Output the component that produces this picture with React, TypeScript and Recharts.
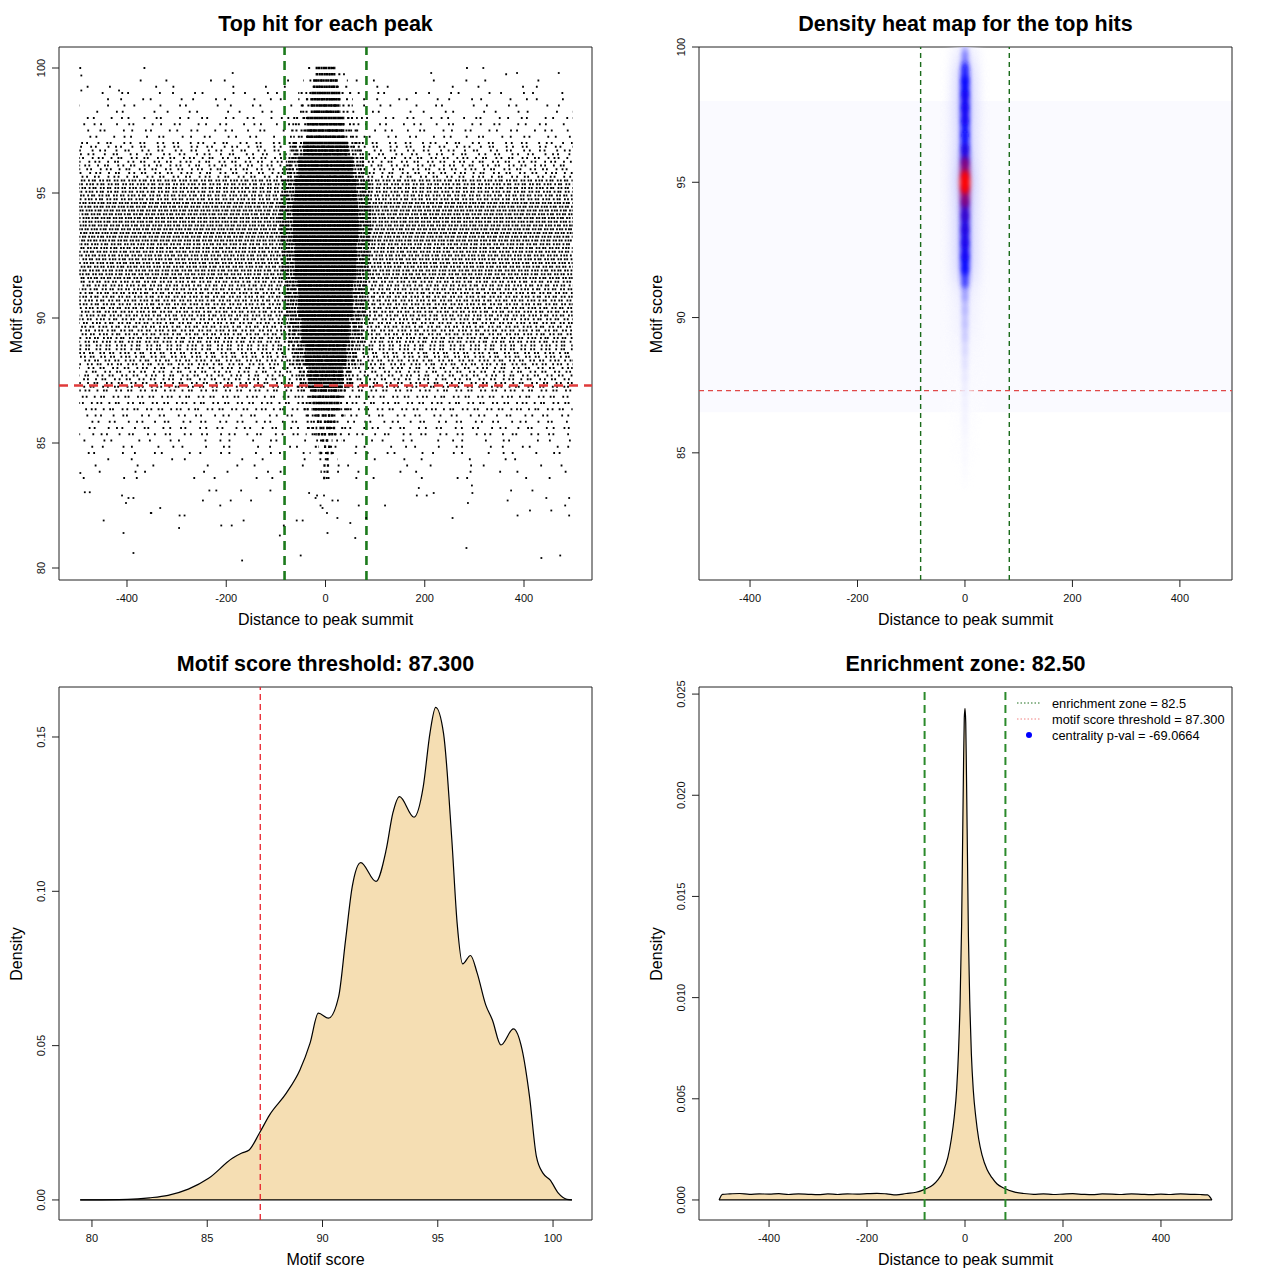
import React from "react";
import {
  ScatterChart,
  Scatter,
  AreaChart,
  Area,
  XAxis,
  YAxis,
  ReferenceLine,
  ReferenceArea,
} from "recharts";

const FONT = '"Liberation Sans", Arial, Helvetica, sans-serif';

// shared cut-offs
const enrichmentZone = 82.5;
const scoreThreshold = 87.3;
const centralityPval = "-69.0664";

const distanceTicks = [-400, -200, 0, 200, 400];
const scoreTicks = [80, 85, 90, 95, 100];
const heatScoreTicks = [85, 90, 95, 100];
const densityScoreTicks = [0, 0.05, 0.1, 0.15];
const densityDistTicks = [0, 0.005, 0.01, 0.015, 0.02, 0.025];

// ---- panel 1: motif score levels (the hits fall on discrete score rows)
const scoreRows = [
  100, 99.75, 99.5, 99.25, 99, 98.75, 98.5, 98.25, 98, 97.75, 97.5, 97.25,
  97, 96.85, 96.7, 96.55, 96.4, 96.25, 96.1, 95.95, 95.8, 95.65, 95.5, 95.35,
  95.2, 95.05, 94.9, 94.75, 94.6, 94.45, 94.3, 94.15, 94, 93.85, 93.7, 93.55,
  93.4, 93.25, 93.1, 92.95, 92.8, 92.65, 92.5, 92.35, 92.2, 92.05, 91.9, 91.75,
  91.6, 91.45, 91.3, 91.15, 91, 90.85, 90.7, 90.55, 90.4, 90.25, 90.1, 89.95,
  89.8, 89.65, 89.5, 89.35, 89.2, 89.05, 88.9, 88.75, 88.6, 88.45, 88.3, 88.15,
  88, 87.85, 87.7, 87.55, 87.4, 87.25, 87.1,
  86.85, 86.6, 86.35, 86.1, 85.85, 85.6, 85.35, 85.1, 84.85, 84.6, 84.35, 84.1,
  83.85, 83.6,
];

// hit density per score band (upper bound of each band, descending)
const bandTop = [100.5, 99.6, 99.0, 98.2, 97.1, 96.4, 95.6, 94.6, 93.0, 91.5, 90.0, 89.0, 88.0, 87.2, 86.2, 85.2, 84.4];
const bandBg = [0.01, 0.05, 0.1, 0.16, 0.22, 0.28, 0.5, 0.6, 0.55, 0.46, 0.42, 0.36, 0.3, 0.3, 0.2, 0.11, 0.055];
const bandShoulderHalf = [35, 45, 55, 65, 72, 80, 88, 92, 88, 82, 75, 66, 56, 48, 40, 32, 25];
const bandShoulderFill = [0.15, 0.25, 0.35, 0.45, 0.55, 0.62, 0.72, 0.78, 0.78, 0.74, 0.7, 0.62, 0.52, 0.4, 0.3, 0.2, 0.1];
const bandCoreHalf = [20, 25, 30, 38, 45, 55, 62, 66, 62, 55, 48, 42, 35, 28, 20, 14, 10];
const bandCoreFill = [0.9, 0.9, 0.92, 0.95, 0.97, 1, 1, 1, 1, 1, 1, 0.97, 0.95, 0.85, 0.65, 0.45, 0.3];

// isolated hits (low scores and a few stragglers at the top)
const outlierX = [
  -485, -475, -410, -397, -387, -402, -352, -333, -447, -294, -284, -295, -407, -387, -210, -189, -165, -168,
  -212, -191, -150, -247, -234, -220, -170, -111, -92, -84, -58, -46, -50, 4, 24, 50, 60, 67, 82, 120, 256,
  284, 287, 367, 387, 412, 435, 455, 473, 483, 491, 491, 445, 417, 374, 296, 295, 204, 184, 218, 188, -10,
  -6, 3, -20, 14, 25, -33, -17, -3, -494, -351, -492, -187, 213, 318, 386, 470, -492, -416,
];
const outlierScore = [
  83.03, 83.03, 82.9, 82.8, 82.8, 82.6, 82.2, 82.4, 81.9, 82.1, 82.1, 81.6, 81.4, 80.6, 81.7, 81.7, 81.9, 80.3,
  82.5, 82.7, 82.7, 82.7, 83.1, 83.1, 83.1, 83.1, 81.3, 81.7, 81.9, 81.9, 80.5, 81.4, 82.0, 81.8, 81.2, 82.5, 82.0, 82.5, 82.0,
  80.8, 82.6, 82.7, 82.1, 82.3, 80.4, 82.3, 80.5, 82.5, 82.1, 82.8, 82.8, 83.1, 83.1, 83.0, 83.3, 82.9, 82.9, 83.0, 83.2, 82.5,
  82.4, 82.2, 82.8, 82.7, 82.7, 83.0, 82.9, 82.9, 83.8, 82.2, 99.7, 99.8, 99.8, 100, 99.8, 99.8, 99.1, 99.1,
];

// ---- panel 2: smoothed density along the summit column
const heatScores = [100, 99.5, 99, 98.5, 98, 97.5, 97, 96.5, 96, 95.5, 95, 94.5, 94, 93.5, 93, 92.5, 92, 91.5, 91, 90.5, 90, 89.5, 89, 88.5, 88, 87.5, 87, 86.5, 86, 85.5, 85, 84.5, 84];
const heatLevels = [0.2, 0.42, 0.68, 0.74, 0.76, 0.76, 0.7, 0.72, 0.78, 0.88, 1.0, 0.88, 0.8, 0.78, 0.77, 0.76, 0.75, 0.6, 0.33, 0.25, 0.22, 0.2, 0.15, 0.12, 0.09, 0.07, 0.06, 0.05, 0.04, 0.03, 0.025, 0.02, 0.01];

// ---- panel 3: density of motif scores
const motifScore = [79.49, 81.55, 82.5, 83.3, 84.18, 85.06, 86.09, 86.5, 86.82, 87.26, 87.7, 88.43, 89.02, 89.46, 89.82, 90.26, 90.7, 91.0, 91.29, 91.66, 92.32, 92.76, 93.05, 93.34, 93.97, 94.37, 94.66, 94.91, 95.25, 95.61, 95.84, 96.08, 96.42, 96.71, 97.08, 97.37, 97.74, 98.28, 98.66, 98.98, 99.28, 99.57, 99.87, 100.23, 100.6, 100.82];
const motifDensity = [0, 0.0002, 0.0007, 0.0015, 0.0035, 0.007, 0.0135, 0.0152, 0.0162, 0.0216, 0.0275, 0.0346, 0.0421, 0.0508, 0.0605, 0.0589, 0.0659, 0.0842, 0.1015, 0.1093, 0.1032, 0.1134, 0.1253, 0.1307, 0.124, 0.1339, 0.1512, 0.1596, 0.1512, 0.1167, 0.0897, 0.0765, 0.0792, 0.0735, 0.0632, 0.0583, 0.0502, 0.0554, 0.0486, 0.0335, 0.014, 0.0086, 0.0065, 0.0022, 0.0002, 0];

// ---- panel 4: density of distances to the summit
const summitDist = [-502, -495, -480, -460, -440, -420, -400, -380, -360, -340, -320, -300, -280, -260, -240, -220, -200, -180, -160, -140, -120, -100, -80, -65, -55, -45, -35, -28, -22, -17, -13, -10, -7, -5, -3, -1.5, 0, 1.5, 3, 5, 7, 10, 13, 17, 22, 28, 35, 45, 55, 65, 80, 100, 120, 140, 160, 180, 200, 220, 240, 260, 280, 300, 320, 340, 360, 380, 400, 420, 440, 460, 480, 495, 504];
const summitDensity = [0, 0.00028, 0.0003, 0.00032, 0.00028, 0.0003, 0.00029, 0.00031, 0.00027, 0.0003, 0.00028, 0.00026, 0.0003, 0.00027, 0.0003, 0.00029, 0.00031, 0.00033, 0.0003, 0.00025, 0.00032, 0.00038, 0.00055, 0.00075, 0.001, 0.0014, 0.0021, 0.003, 0.0041, 0.0055, 0.0075, 0.0098, 0.0135, 0.0175, 0.0215, 0.0238, 0.0243, 0.0236, 0.021, 0.017, 0.013, 0.0095, 0.0072, 0.0054, 0.0041, 0.003, 0.0022, 0.0015, 0.0011, 0.0008, 0.00058, 0.0004, 0.00032, 0.00028, 0.0003, 0.00027, 0.00029, 0.00031, 0.00028, 0.00026, 0.0003, 0.00029, 0.00027, 0.0003, 0.00028, 0.00026, 0.00029, 0.00027, 0.0003, 0.00028, 0.00027, 0.00025, 0];

// ---------- helpers
const GAP_PATTERN = [0.35, 1.8, 0.6, 1.3, 0.45, 1.7, 0.9, 0.5, 1.5, 1.1, 0.25, 1.85, 0.7, 1.25];

function dots(fill: number, w: number, shift: number) {
  if (fill >= 0.999) return undefined;
  const gap = w / fill - w;
  const parts: number[] = [];
  for (let k = 0; k < GAP_PATTERN.length; k++) {
    const m = GAP_PATTERN[(k + shift) % GAP_PATTERN.length];
    parts.push(w, +(gap * m).toFixed(2));
  }
  return parts.join(" ");
}

function bandOf(score: number) {
  let b = 0;
  for (let k = 0; k < bandTop.length; k++) if (bandTop[k] >= score) b = k;
  return b;
}

function heatColor(t: number) {
  if (t < 0.75) {
    const f = 1 - t / 0.75;
    return `rgb(${Math.round(255 * f)},${Math.round(255 * f)},255)`;
  }
  const f = Math.min(1, (t - 0.75) / 0.25);
  return `rgb(${Math.round(255 * f)},0,${Math.round(255 * (1 - f))})`;
}

const XTick = (props: any) => {
  const { x, y, payload } = props;
  return (
    <text x={x} y={y + 13} textAnchor="middle" fontSize={11} fontFamily={FONT} fill="#111">
      {payload.value}
    </text>
  );
};

const makeYTick = (digits: number) => (props: any) => {
  const { x, y, payload } = props;
  const label = digits > 0 ? Number(payload.value).toFixed(digits) : String(payload.value);
  return (
    <text transform={`translate(${x - 5},${y}) rotate(-90)`} textAnchor="middle" fontSize={11} fontFamily={FONT} fill="#111">
      {label}
    </text>
  );
};

const W = 640;
const H = 640;
const MARGIN = { top: 47, right: 48, bottom: 20, left: 19 };

function Panel({ left, top, title, xLabel, yLabel, children }: any) {
  return (
    <div style={{ position: "absolute", left, top, width: W, height: H }}>
      {children}
      <div
        style={{
          position: "absolute", left: 59, top: 11, width: 533, textAlign: "center",
          fontFamily: FONT, fontWeight: "bold", fontSize: 21.5, lineHeight: "26px", color: "#000",
        }}
      >
        {title}
      </div>
      <div
        style={{
          position: "absolute", left: 59, top: 610, width: 533, textAlign: "center",
          fontFamily: FONT, fontSize: 16, lineHeight: "20px", color: "#000",
        }}
      >
        {xLabel}
      </div>
      <div
        style={{
          position: "absolute", left: 17, top: 314, fontFamily: FONT, fontSize: 16, lineHeight: "20px",
          color: "#000", whiteSpace: "nowrap", transform: "translate(-50%,-50%) rotate(-90deg)",
        }}
      >
        {yLabel}
      </div>
    </div>
  );
}

// ---------- panel 1
function TopHitScatter() {
  const xd = [-537, 537];
  const yd = [79.52, 100.84];
  const outliers = outlierX.map((x, i) => ({ x, y: outlierScore[i] }));
  const rowLines: React.ReactNode[] = [];
  scoreRows.forEach((s, i) => {
    const b = bandOf(s);
    const off = (i * 41) % 67;
    const rot = (i * 5) % GAP_PATTERN.length;
    rowLines.push(
      <ReferenceLine key={`bg${i}`} segment={[{ x: -496, y: s }, { x: 498, y: s }]} stroke="#000" strokeWidth={1.8}
        strokeDasharray={dots(bandBg[b], 1.8, rot)} strokeDashoffset={off} />,
      <ReferenceLine key={`sh${i}`} segment={[{ x: -bandShoulderHalf[b], y: s }, { x: bandShoulderHalf[b], y: s }]}
        stroke="#000" strokeWidth={2} strokeDasharray={dots(bandShoulderFill[b], 2, rot + 3)} strokeDashoffset={off} />,
      <ReferenceLine key={`co${i}`} segment={[{ x: -bandCoreHalf[b], y: s }, { x: bandCoreHalf[b], y: s }]}
        stroke="#000" strokeWidth={2.5} strokeDasharray={dots(bandCoreFill[b], 2.2, rot + 7)} strokeDashoffset={off} />
    );
  });
  return (
    <ScatterChart width={W} height={H} margin={MARGIN}>
      <XAxis type="number" dataKey="x" domain={xd} allowDataOverflow ticks={distanceTicks} height={40}
        tick={<XTick />} tickSize={7} tickLine={{ stroke: "#222" }} axisLine={false} />
      <YAxis type="number" dataKey="y" domain={yd} allowDataOverflow ticks={scoreTicks} width={40}
        tick={makeYTick(0)} tickSize={7} tickLine={{ stroke: "#222" }} axisLine={false} />
      {rowLines}
      <Scatter data={outliers} isAnimationActive={false}
        shape={(p: any) => <rect x={p.cx - 0.9} y={p.cy - 0.9} width={1.8} height={1.8} fill="#000" />} />
      <ReferenceLine x={-enrichmentZone} stroke="#1C7A1C" strokeWidth={2.6} strokeDasharray="9 6" />
      <ReferenceLine x={enrichmentZone} stroke="#1C7A1C" strokeWidth={2.6} strokeDasharray="9 6" />
      <ReferenceLine y={scoreThreshold} stroke="#E03A3A" strokeWidth={2.6} strokeDasharray="9 6" />
      <ReferenceArea x1={xd[0]} x2={xd[1]} y1={yd[0]} y2={yd[1]} fill="none" stroke="#222" strokeWidth={1} ifOverflow="visible" />
    </ScatterChart>
  );
}

// ---------- panel 2
function HeatMap() {
  const xd = [-495, 497];
  const yd = [80.3, 100];
  const cells = heatScores.map((s, i) => ({ x: 0, y: s, level: heatLevels[i] }));
  const cores = [...cells].sort((a, b) => a.level - b.level);
  return (
    <ScatterChart width={W} height={H} margin={MARGIN}>
      <XAxis type="number" dataKey="x" domain={xd} allowDataOverflow ticks={distanceTicks} height={40}
        tick={<XTick />} tickSize={7} tickLine={{ stroke: "#222" }} axisLine={false} />
      <YAxis type="number" dataKey="y" domain={yd} allowDataOverflow ticks={heatScoreTicks} width={40}
        tick={makeYTick(0)} tickSize={7} tickLine={{ stroke: "#222" }} axisLine={false} />
      <ReferenceArea x1={-495} x2={497} y1={86.5} y2={98} fill="#F6F6FF" fillOpacity={0.5} stroke="none" />
      <Scatter data={cells} isAnimationActive={false}
        shape={(p: any) => (
          <ellipse cx={p.cx} cy={p.cy} rx={13} ry={14} fill={heatColor(p.payload.level * 0.2)} opacity={0.55} filter="url(#heatWide)" />
        )} />
      <Scatter data={cores} isAnimationActive={false}
        shape={(p: any) => (
          <ellipse cx={p.cx} cy={p.cy} rx={1.5 + 3.6 * p.payload.level} ry={12} fill={heatColor(p.payload.level)} filter="url(#heatCore)" />
        )} />
      <ReferenceLine x={-enrichmentZone} stroke="#1A6B1A" strokeWidth={1.4} strokeDasharray="5 4" />
      <ReferenceLine x={enrichmentZone} stroke="#1A6B1A" strokeWidth={1.4} strokeDasharray="5 4" />
      <ReferenceLine y={scoreThreshold} stroke="#E04848" strokeWidth={1.4} strokeDasharray="5 4" />
      <ReferenceArea x1={xd[0]} x2={xd[1]} y1={yd[0]} y2={yd[1]} fill="none" stroke="#222" strokeWidth={1} ifOverflow="visible" />
    </ScatterChart>
  );
}

// ---------- panel 3
function ScoreDensity() {
  const xd = [78.57, 101.69];
  const yd = [-0.0065, 0.1662];
  const data = motifScore.map((x, i) => ({ x, y: motifDensity[i] }));
  return (
    <AreaChart width={W} height={H} margin={MARGIN} data={data}>
      <XAxis type="number" dataKey="x" domain={xd} allowDataOverflow ticks={scoreTicks} height={40}
        tick={<XTick />} tickSize={7} tickLine={{ stroke: "#222" }} axisLine={false} />
      <YAxis type="number" domain={yd} allowDataOverflow ticks={densityScoreTicks} width={40}
        tick={makeYTick(2)} tickSize={7} tickLine={{ stroke: "#222" }} axisLine={false} />
      <Area type="monotone" dataKey="y" baseValue={0} stroke="#000" strokeWidth={1.2} fill="#F5DEB3" fillOpacity={1} isAnimationActive={false} />
      <ReferenceLine segment={[{ x: motifScore[0], y: 0 }, { x: motifScore[motifScore.length - 1], y: 0 }]} stroke="#000" strokeWidth={1.2} />
      <ReferenceLine x={scoreThreshold} stroke="#E8202A" strokeWidth={1.3} strokeDasharray="6 4" />
      <ReferenceArea x1={xd[0]} x2={xd[1]} y1={yd[0]} y2={yd[1]} fill="none" stroke="#222" strokeWidth={1} ifOverflow="visible" />
    </AreaChart>
  );
}

// ---------- panel 4
function DistanceDensity() {
  const xd = [-543, 545];
  const yd = [-0.00099, 0.02535];
  const data = summitDist.map((x, i) => ({ x, y: summitDensity[i] }));
  return (
    <AreaChart width={W} height={H} margin={MARGIN} data={data}>
      <XAxis type="number" dataKey="x" domain={xd} allowDataOverflow ticks={distanceTicks} height={40}
        tick={<XTick />} tickSize={7} tickLine={{ stroke: "#222" }} axisLine={false} />
      <YAxis type="number" domain={yd} allowDataOverflow ticks={densityDistTicks} width={40}
        tick={makeYTick(3)} tickSize={7} tickLine={{ stroke: "#222" }} axisLine={false} />
      <Area type="monotone" dataKey="y" baseValue={0} stroke="#000" strokeWidth={1.2} fill="#F5DEB3" fillOpacity={1} isAnimationActive={false} />
      <ReferenceLine segment={[{ x: summitDist[0], y: 0 }, { x: summitDist[summitDist.length - 1], y: 0 }]} stroke="#000" strokeWidth={1.2} />
      <ReferenceLine x={-enrichmentZone} stroke="#2B8A2B" strokeWidth={2} strokeDasharray="8 5" />
      <ReferenceLine x={enrichmentZone} stroke="#2B8A2B" strokeWidth={2} strokeDasharray="8 5" />
      <ReferenceArea x1={xd[0]} x2={xd[1]} y1={yd[0]} y2={yd[1]} fill="none" stroke="#222" strokeWidth={1} ifOverflow="visible" />
    </AreaChart>
  );
}

function CentralityLegend() {
  const rows = [
    { label: `enrichment zone = ${enrichmentZone}`, kind: "line", color: "#1E6E1E" },
    { label: `motif score threshold = ${scoreThreshold.toFixed(3)}`, kind: "line", color: "#F08080" },
    { label: `centrality p-val = ${centralityPval}`, kind: "dot", color: "#0000FF" },
  ];
  return (
    <svg style={{ position: "absolute", left: 370, top: 52 }} width={230} height={56}>
      {rows.map((r, i) => {
        const cy = 11 + i * 16;
        return (
          <g key={r.label}>
            {r.kind === "line" ? (
              <line x1={7} x2={31} y1={cy} y2={cy} stroke={r.color} strokeWidth={1} strokeDasharray="1.5 2" />
            ) : (
              <circle cx={19} cy={cy} r={3} fill={r.color} />
            )}
            <text x={42} y={cy + 4.5} fontSize={12.8} fontFamily={FONT} fill="#000">{r.label}</text>
          </g>
        );
      })}
    </svg>
  );
}

export default function App() {
  return (
    <div style={{ position: "absolute", left: 0, top: 0, width: 1280, height: 1280, background: "#fff" }}>
      <svg width={0} height={0} style={{ position: "absolute" }}>
        <defs>
          <filter id="heatCore" x="-200%" y="-100%" width="500%" height="300%">
            <feGaussianBlur stdDeviation="2.6" />
          </filter>
          <filter id="heatWide" x="-100%" y="-100%" width="300%" height="300%">
            <feGaussianBlur stdDeviation="6" />
          </filter>
        </defs>
      </svg>
      <Panel left={0} top={0} title="Top hit for each peak" xLabel="Distance to peak summit" yLabel="Motif score">
        <TopHitScatter />
      </Panel>
      <Panel left={640} top={0} title="Density heat map for the top hits" xLabel="Distance to peak summit" yLabel="Motif score">
        <HeatMap />
      </Panel>
      <Panel left={0} top={640} title={`Motif score threshold: ${scoreThreshold.toFixed(3)}`} xLabel="Motif score" yLabel="Density">
        <ScoreDensity />
      </Panel>
      <Panel left={640} top={640} title={`Enrichment zone: ${enrichmentZone.toFixed(2)}`} xLabel="Distance to peak summit" yLabel="Density">
        <DistanceDensity />
        <CentralityLegend />
      </Panel>
    </div>
  );
}
